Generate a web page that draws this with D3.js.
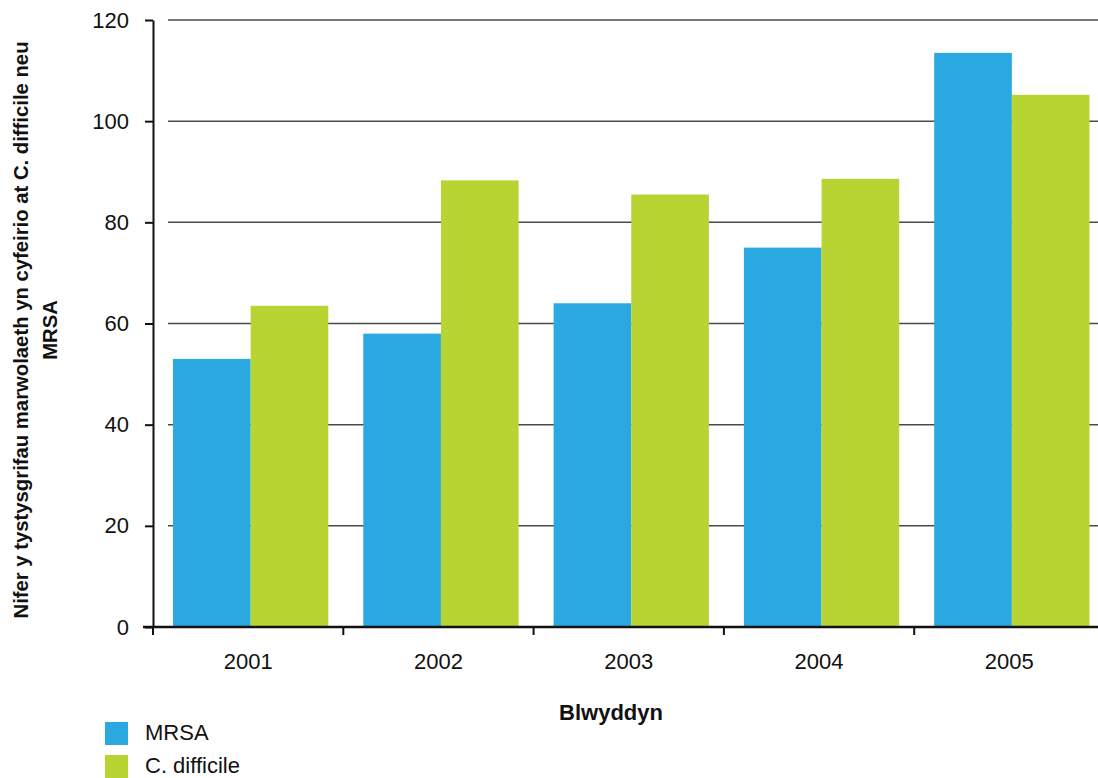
<!DOCTYPE html>
<html>
<head>
<meta charset="utf-8">
<script src="https://cdn.jsdelivr.net/npm/d3@7"></script>
<style>
  body { margin: 0; background: #fff; }
  svg { font-family: "Liberation Sans", Arial, sans-serif; }
</style>
</head>
<body>
<div id="chart"></div>
<script>
// data
var years = ["2001", "2002", "2003", "2004", "2005"];
var seriesNames = ["MRSA", "C. difficile"];
var mrsa = [53, 58, 64, 75, 113.5];
var cdiff = [63.5, 88.3, 85.5, 88.6, 105.2];
var yTicks = [0, 20, 40, 60, 80, 100, 120];
var colors = ["#29a9e0", "#b8d433"];

var width = 1098, height = 778;
var margin = { left: 153, top: 20, bottom: 151 };

var svg = d3.select("#chart").append("svg")
    .attr("width", width)
    .attr("height", height);

var y = d3.scaleLinear()
    .domain([0, 120])
    .range([height - margin.bottom, margin.top]);

var x0 = d3.scaleBand()
    .domain(years)
    .range([margin.left, margin.left + 5 * 190.3]);

var x1 = d3.scaleBand()
    .domain(seriesNames)
    .range([20, x0.bandwidth() - 15]);

// gridlines
svg.append("g").selectAll("line")
    .data(yTicks.filter(function(d) { return d > 0; }))
    .enter().append("line")
      .attr("x1", 168)
      .attr("x2", width)
      .attr("y1", function(d) { return y(d); })
      .attr("y2", function(d) { return y(d); })
      .attr("stroke", "#4a4a4a")
      .attr("stroke-width", 1.5);

// bars
var rows = years.map(function(yr, i) {
  return { year: yr, values: [mrsa[i], cdiff[i]] };
});

var group = svg.append("g").selectAll("g")
    .data(rows)
    .enter().append("g")
      .attr("transform", function(d) { return "translate(" + x0(d.year) + ",0)"; });

group.selectAll("rect")
    .data(function(d) { return d.values.map(function(v, j) { return { key: seriesNames[j], value: v, j: j }; }); })
    .enter().append("rect")
      .attr("x", function(d) { return x1(d.key); })
      .attr("width", x1.bandwidth())
      .attr("y", function(d) { return y(d.value); })
      .attr("height", function(d) { return y(0) - y(d.value); })
      .attr("fill", function(d) { return colors[d.j]; });

// y axis
var yAxis = svg.append("g")
    .attr("transform", "translate(" + margin.left + ",0)")
    .call(d3.axisLeft(y).tickValues(yTicks).tickSize(8).tickSizeOuter(0).tickPadding(16));
yAxis.select(".domain").attr("stroke", "#111").attr("stroke-width", 2);
yAxis.selectAll(".tick line").attr("stroke", "#111").attr("stroke-width", 2);
yAxis.selectAll(".tick text")
    .attr("font-size", 22)
    .attr("fill", "#111")
    .attr("font-family", "Liberation Sans, Arial, sans-serif");

// x axis
var xTickScale = d3.scaleLinear().domain([0, 5]).range(x0.range());
var xAxisG = svg.append("g").attr("transform", "translate(0," + y(0) + ")");
xAxisG.append("line")
    .attr("x1", margin.left - 10)
    .attr("x2", width)
    .attr("stroke", "#111")
    .attr("stroke-width", 2.5);
xAxisG.selectAll(".xtick")
    .data(d3.range(0, 5))
    .enter().append("line")
      .attr("class", "xtick")
      .attr("x1", function(d) { return xTickScale(d); })
      .attr("x2", function(d) { return xTickScale(d); })
      .attr("y1", 0)
      .attr("y2", 8)
      .attr("stroke", "#111")
      .attr("stroke-width", 2);
xAxisG.selectAll(".xlab")
    .data(years)
    .enter().append("text")
      .attr("x", function(d) { return x0(d) + x0.bandwidth() / 2; })
      .attr("y", 42)
      .attr("text-anchor", "middle")
      .attr("font-size", 22)
      .attr("fill", "#111")
      .text(function(d) { return d; });

// axis titles
svg.append("text")
    .attr("x", 611)
    .attr("y", 720)
    .attr("text-anchor", "middle")
    .attr("font-size", 22)
    .attr("font-weight", "bold")
    .attr("fill", "#111")
    .text("Blwyddyn");

var yTitle = svg.append("text")
    .attr("transform", "translate(28,330) rotate(-90)")
    .attr("text-anchor", "middle")
    .attr("font-size", 20.3)
    .attr("font-weight", "bold")
    .attr("fill", "#111");
yTitle.append("tspan").attr("x", 0).attr("dy", 0)
    .text("Nifer y tystysgrifau marwolaeth yn cyfeirio at C. difficile neu");
yTitle.append("tspan").attr("x", 0).attr("dy", 29).text("MRSA");

// legend
var legend = svg.append("g").selectAll("g")
    .data(seriesNames)
    .enter().append("g")
      .attr("transform", function(d, i) { return "translate(105," + (722 + i * 33) + ")"; });
legend.append("rect")
    .attr("width", 23)
    .attr("height", 23)
    .attr("fill", function(d, i) { return colors[i]; });
legend.append("text")
    .attr("x", 40)
    .attr("y", 18)
    .attr("font-size", 22)
    .attr("fill", "#111")
    .text(function(d) { return d; });
</script>
</body>
</html>
